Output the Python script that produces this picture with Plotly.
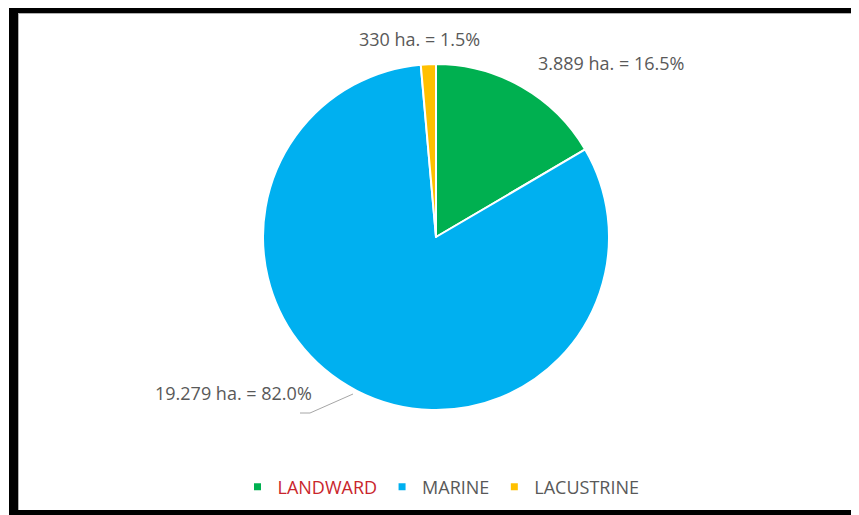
import plotly.graph_objects as go

# the page body has an 8px margin, so the figure is 8px smaller than the window
OFF = 8
W, H = 859 - OFF, 515 - OFF

# ---- data ----
categories = ["LANDWARD", "MARINE", "LACUSTRINE"]
areas_ha = [3889, 19279, 330]
area_labels = ["3.889", "19.279", "330"]
percent_labels = ["16.5%", "82.0%", "1.5%"]
colors = ["#00B050", "#00B0F0", "#FFC000"]
legend_text_colors = ["#C9252C", "#595959", "#595959"]

FONT = "Open Sans"
GRAY = "#595959"


def px(x):
    """screen x (px) -> paper"""
    return (x - OFF) / W


def py(y):
    """screen y (px, from top) -> paper"""
    return 1 - (y - OFF) / H


fig = go.Figure()

# pie centred at (436, 237), radius ~173 px (screen coords)
cx, cy, r = 436, 237, 173
fig.add_trace(go.Pie(
    labels=categories,
    values=areas_ha,
    sort=False,
    direction="clockwise",
    rotation=0,
    marker=dict(colors=colors, line=dict(color="white", width=2)),
    textinfo="none",
    hoverinfo="label+value+percent",
    showlegend=False,
    domain=dict(x=[px(cx - r), px(cx + r)], y=[py(cy + r), py(cy - r)]),
))

# legend entries (square markers)
for cat, col, tcol in zip(categories, colors, legend_text_colors):
    fig.add_trace(go.Scatter(
        x=[None], y=[None], mode="markers",
        marker=dict(symbol="square", size=7, color=col),
        name=f"<span style='color:{tcol}'>{cat}</span>",
        showlegend=True, hoverinfo="skip",
    ))

# data labels (screen positions of label centres)
label_pos = [(611, 63), (233, 393), (419, 39)]
annotations = []
for (x, y), a, p in zip(label_pos, area_labels, percent_labels):
    annotations.append(dict(
        x=px(x), y=py(y), xref="paper", yref="paper",
        text=f"{a} ha. = {p}", showarrow=False,
        xanchor="center", yanchor="middle",
        font=dict(family=FONT, size=18, color=GRAY),
    ))


def box(x0, y0, x1, y1, color):
    return dict(type="rect", xref="paper", yref="paper",
                x0=px(x0), x1=px(x1), y0=py(y1), y1=py(y0),
                line=dict(width=0), fillcolor=color, layer="above")


shapes = [
    # outer black frame
    box(9, 8, 18, 515, "black"),
    box(9, 8, 859, 13, "black"),
    box(853, 8, 859, 515, "black"),
    box(9, 510, 859, 515, "black"),
    # thin grey inner edge
    box(18, 13, 19, 510, "#B0B0B0"),
    box(18, 13, 853, 14, "#B0B0B0"),
    # leader line for MARINE label
    dict(type="path", xref="paper", yref="paper",
         path=f"M {px(300)} {py(413)} L {px(310)} {py(413)} L {px(353)} {py(394)}",
         line=dict(color="#A6A6A6", width=1)),
]

fig.update_layout(
    width=W, height=H,
    margin=dict(l=0, r=0, t=0, b=0),
    paper_bgcolor="white", plot_bgcolor="white",
    xaxis=dict(visible=False, domain=[0, 0.01]),
    yaxis=dict(visible=False, domain=[0, 0.01]),
    legend=dict(orientation="h", x=px(441), xanchor="center", y=py(487), yanchor="middle",
                font=dict(family=FONT, size=18, color=GRAY),
                bgcolor="rgba(0,0,0,0)", itemwidth=30),
    annotations=annotations,
    shapes=shapes,
    font=dict(family=FONT),
)

fig.write_html("out.html")
